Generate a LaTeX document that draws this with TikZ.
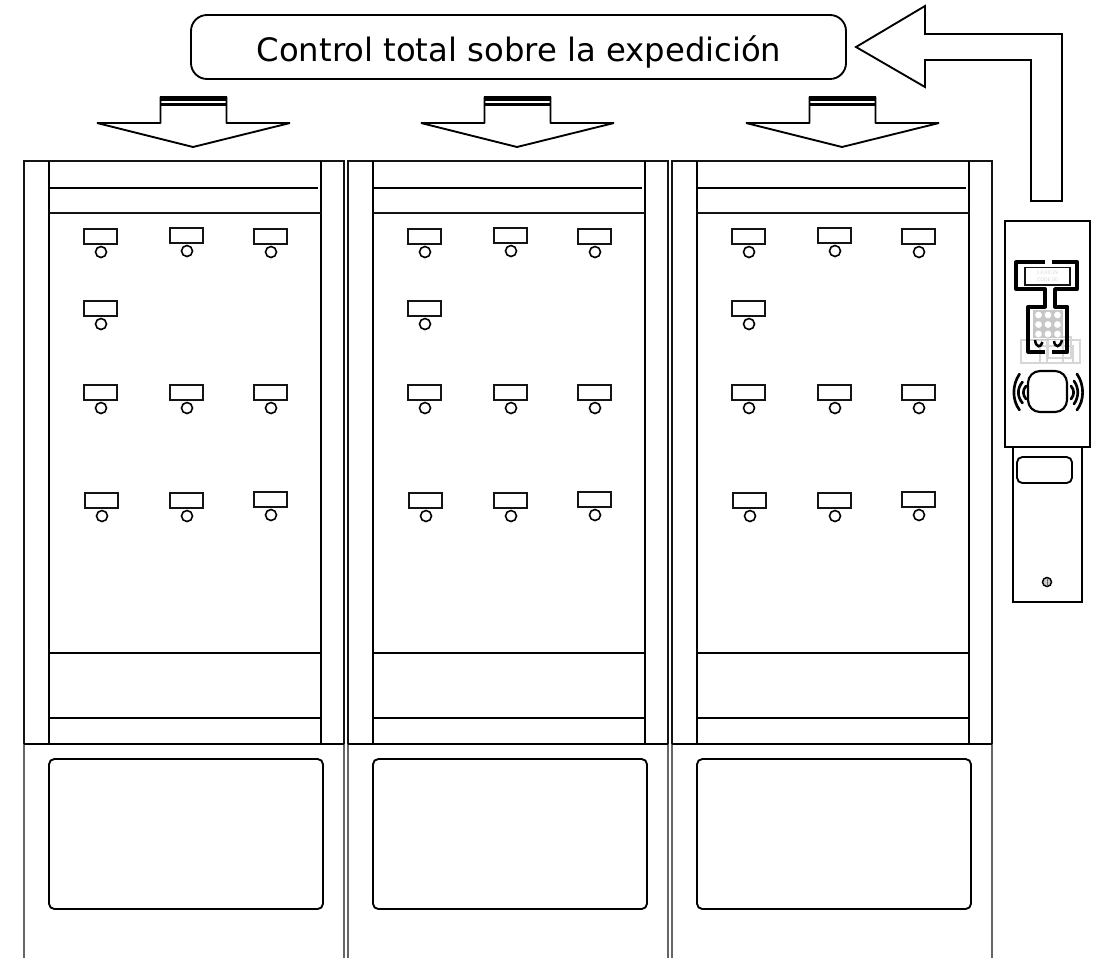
\documentclass[tikz,border=0pt]{standalone}
\usepackage{fontspec}
\setmainfont{DejaVu Sans}
\definecolor{ink}{gray}{0.08}
\definecolor{faint}{gray}{0.84}
\definecolor{keyg}{gray}{0.78}
\tikzset{
  px/.style={x=0.75pt,y=-0.75pt},
  thin line/.style={draw=ink,line width=0.95pt},
  mid line/.style={draw=black,line width=1.4pt},
  heavy line/.style={draw=black,line width=1.9pt},
  leg line/.style={draw=black!60,line width=0.8pt},
  tag/.style={draw=ink,line width=1pt,fill=white},
  peg/.style={draw=black,line width=1.2pt,fill=white},
  phone/.style={draw=black,line width=2.9pt,line join=round},
  wave/.style={draw=black,line width=2pt,line cap=round},
  caption/.style={font=\fontsize{24.2pt}{28pt}\selectfont,text=black,inner sep=0pt}
}
\newcommand{\tagpeg}[2]{%
  \draw[tag] (#1,#2) rectangle (#1+33,#2+15);
  \draw[peg] (#1+17,#2+23) circle (5.5);
}
\begin{document}
\begin{tikzpicture}[px]
\useasboundingbox (0,0) rectangle (1102,958);
% cabinets
\foreach \dx in {0,324,648}{
\begin{scope}[shift={(\dx,0)}]
  \draw[leg line] (24,744) -- (24,958);
  \draw[leg line] (344,744) -- (344,958);
  \draw[thin line] (24,744) -- (24,161) -- (344,161) -- (344,744);
  \draw[mid line] (49,161) -- (49,744);
  \draw[mid line] (321,161) -- (321,744);
  \draw[heavy line] (49,188) -- (318,188);
  \draw[thin line] (49,213) -- (321,213);
  \draw[mid line] (49,653) -- (321,653);
  \draw[mid line] (49,718) -- (321,718);
  \draw[mid line] (24,744) -- (344,744);
  \draw[mid line,rounded corners=4] (49,759) rectangle (323,909);
  % tags
  \tagpeg{84}{229}\tagpeg{170}{228}\tagpeg{254}{229}
  \tagpeg{84}{301}
  \tagpeg{84}{385}\tagpeg{170}{385}\tagpeg{254}{385}
  \tagpeg{85}{493}\tagpeg{170}{493}\tagpeg{254}{492}
\end{scope}}
% down arrows
\foreach \dx in {0,324,649}{
\begin{scope}[shift={(\dx,0)}]
  \draw[mid line,line join=bevel] (160.5,97) -- (160.5,123) -- (97,123) -- (193,147) -- (290,123) -- (226.5,123) -- (226.5,97) -- cycle;
  \fill[black] (160,96) rectangle (227,101);
  \fill[black] (160,102.5) rectangle (227,105.5);
\end{scope}}
% title
\draw[mid line,rounded corners=12] (191,15) rectangle (846,79);
\node[caption] (title) at (519,52) {Control total sobre la expedición};
% return arrow
\draw[mid line,line join=miter] (856,47) -- (925,6) -- (925,34) -- (1062,34) -- (1062,201) -- (1031,201) -- (1031,60) -- (925,60) -- (925,87) -- cycle;
% terminal body
\draw[mid line] (1013,448) -- (1013,602) -- (1082,602) -- (1082,448);
\draw[mid line] (1005,221) rectangle (1090,447);
\draw[mid line,rounded corners=4] (1017,457) rectangle (1072,483);
\draw[draw=black,line width=1.1pt,fill=black!20] (1047,582) circle (4.5);
\fill[black!60] (1047,578) rectangle (1048.2,586);
% faint frames behind handset
\draw[draw=faint,line width=1pt] (1021,340) rectangle (1047,363);
\draw[draw=faint,line width=1pt] (1040,346) rectangle (1073,363);
\draw[draw=faint,line width=1pt] (1063,340) rectangle (1080,363);
\draw[draw=faint,line width=1pt] (1048,337) rectangle (1071,358);
% keypad
\fill[keyg] (1033,310) rectangle (1063,338);
\foreach \kx in {1038.5,1048,1057.5}{
  \foreach \ky in {315,324.5,334}{
    \fill[white] (\kx,\ky) circle (3.4);
  }
}
\draw[draw=keyg,line width=0.6pt] (1033,339.5) -- (1063,339.5);
% handset outline
\draw[phone] (1045,262.3) -- (1016,262.3) -- (1016,289) -- (1045,289) -- (1045,306.7) -- (1028.3,306.7) -- (1028.3,351.7) -- (1045,351.7);
\draw[phone] (1051.7,262.3) -- (1077.3,262.3) -- (1077.3,289) -- (1055,289) -- (1055,306.7) -- (1067.3,306.7) -- (1067.3,351.7) -- (1051.7,351.7);
\draw[draw=ink,line width=1pt] (1025,267.3) rectangle (1070,285);
\node[font=\fontsize{3.6pt}{5pt}\selectfont,text=faint,inner sep=0pt,align=center] (clock) at (1047.5,276) {13:00:29\\CODE 00};
% soft keys
\draw[draw=black,line width=1.9pt] (1035,340) .. controls (1036,348) and (1041,348) .. (1042.5,342);
\draw[draw=black,line width=1.9pt] (1054,341) .. controls (1055,348) and (1060,348) .. (1062,340);
% reader
\draw[draw=black,line width=1.6pt,rounded corners=9,fill=white] (1028,371) rectangle (1067,412);
\draw[wave] (1019.5,374) .. controls (1012,385) and (1012,400) .. (1019.5,410);
\draw[wave] (1022.5,382) .. controls (1017,388) and (1017,397) .. (1022.5,403);
\draw[wave] (1026,386) .. controls (1022.5,390) and (1022.5,395) .. (1026,399);
\draw[wave] (1077,374) .. controls (1084.5,385) and (1084.5,400) .. (1077,410);
\draw[wave] (1074,381) .. controls (1079,388) and (1079,397) .. (1074,404);
\draw[wave] (1071,386) .. controls (1074.5,390) and (1074.5,395) .. (1071,399);
\end{tikzpicture}
\end{document}
